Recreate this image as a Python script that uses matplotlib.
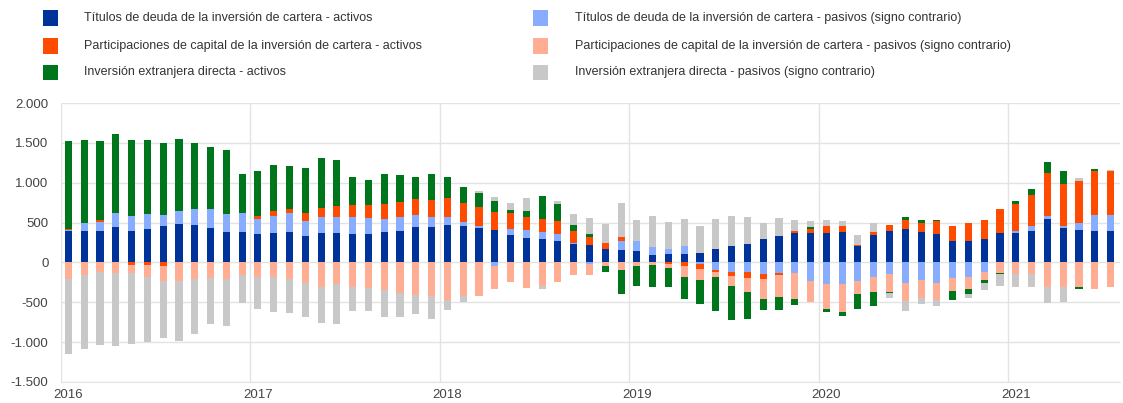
import numpy as np
import matplotlib
matplotlib.use("Agg")
import matplotlib.pyplot as plt
from matplotlib.patches import Rectangle
from matplotlib.ticker import FuncFormatter, FixedLocator

plt.rcParams['font.family'] = ['Liberation Sans', 'DejaVu Sans']

# Monthly data, Jan 2016 - Jul 2021
years = ['2016', '2017', '2018', '2019', '2020', '2021']

deuda_activos = [390, 400, 392, 446, 400, 425, 458, 488, 475, 433, 379, 379,
                 358, 367, 379, 329, 371, 371, 358, 358, 383, 392, 446, 446,
                 467, 458, 433, 413, 350, 308, 288, 267, 233, 221, 171, 158,
                 138, 88, 108, 100, 117, 167, 204, 225, 296, 329, 371, 371,
                 371, 379, 200, 350, 400, 421, 379, 358, 267, 275, 288, 367,
                 367, 392, 550, 438, 413, 392, 400]
deuda_pasivos = [20, 92, 120, 175, 179, 187, 142, 154, 192, 234, 233, 238,
                 192, 212, 238, 196, 200, 200, 213, 205, 167, 179, 154, 125,
                 104, 50, 29, -50, 71, 104, 92, 92, 17, -17, 0, 117,
                 125, 108, 63, 104, -25, -92, -125, -117, -146, -138, -138, -229,
                 -275, -275, -238, -183, -146, -254, -221, -258, -200, -188, -125, 0,
                 21, 67, 38, 21, 83, 200, 192]
capital_activos = [10, 0, 20, 0, -29, -33, -42, 0, 0, 0, 0, 8,
                   33, 62, 58, 96, 117, 137, 146, 158, 179, 187, 200, 213,
                   242, 238, 233, 221, 200, 163, 171, 158, 138, 96, 71, 50,
                   0, 0, -17, -42, -60, -33, -50, -75, -67, -21, 17, 54,
                   88, 79, 21, 29, 71, 108, 121, 158, 196, 221, 250, 304,
                   346, 383, 533, 525, 529, 550, 550]
capital_pasivos = [-204, -162, -125, -137, -108, -154, -187, -229, -212, -192, -204, -154,
                   -187, -187, -208, -258, -308, -275, -308, -321, -350, -388, -404, -425,
                   -467, -425, -421, -279, -250, -317, -300, -250, -154, -142, -50, -92,
                   -42, -29, -54, -146, -130, -63, -121, -175, -250, -275, -317, -267,
                   -304, -346, -163, -188, -225, -233, -225, -208, -158, -142, -96, -133,
                   -150, -142, -308, -308, -308, -329, -308]
ied_activos = [1100, 1050, 993, 996, 963, 930, 892, 908, 833, 779, 800, 479,
               559, 584, 529, 567, 620, 580, 350, 312, 379, 338, 275, 324,
               254, 196, 171, 137, 38, 67, 283, 212, 83, 37, -75, -300,
               -258, -275, -238, -275, -310, -425, -421, -342, -138, -158, -75, 21,
               -42, -54, -183, -179, -17, 42, 38, 21, -117, -71, -42, -17,
               33, 75, 138, 167, -21, 29, 0]
ied_pasivos = [-942, -921, -912, -917, -883, -809, -713, -759, -684, -575, -596, -358,
               -392, -438, -430, -425, -446, -492, -300, -287, -333, -291, -246, -279,
               -125, -75, 33, 54, 92, 171, -37, 42, 142, 208, 246, 417,
               263, 383, 333, 338, 342, 383, 383, 350, 204, 233, 150, 71,
               79, 58, 125, 117, -54, -121, -79, -79, 0, -50, -83, -150,
               -158, -163, -204, -188, 33, 0, 12]

labels = ['Títulos de deuda de la inversión de cartera - activos',
          'Títulos de deuda de la inversión de cartera - pasivos (signo contrario)',
          'Participaciones de capital de la inversión de cartera - activos',
          'Participaciones de capital de la inversión de cartera - pasivos (signo contrario)',
          'Inversión extranjera directa - activos',
          'Inversión extranjera directa - pasivos (signo contrario)']
colors = ['#003399', '#88ADFF', '#FF4B00', '#FFAE93', '#00761C', '#C8C8C8']
series = [deuda_activos, deuda_pasivos, capital_activos, capital_pasivos,
          ied_activos, ied_pasivos]

W, H = 1123, 403
fig = plt.figure(figsize=(W / 100, H / 100), dpi=100)
ax_l, ax_r, ax_t, ax_b = 61, 1120, 103, 382
ax = fig.add_axes([ax_l / W, (H - ax_b) / H, (ax_r - ax_l) / W, (ax_b - ax_t) / H])

n = len(deuda_activos)
x = np.arange(n) + 0.47
pos_base = np.zeros(n)
neg_base = np.zeros(n)
for vals, col in zip(series, colors):
    v = np.array(vals, dtype=float)
    bottom = np.where(v >= 0, pos_base, neg_base)
    ax.bar(x, v, bottom=bottom, width=0.45, color=col, linewidth=0, zorder=3)
    pos_base = pos_base + np.where(v >= 0, v, 0)
    neg_base = neg_base + np.where(v < 0, v, 0)

ax.set_ylim(-1500, 2000)
ax.set_xlim(0, (ax_r - ax_l) / 15.79)
ax.set_yticks(np.arange(-1500, 2001, 500))
ax.yaxis.set_major_formatter(FuncFormatter(lambda v, p: f"{int(v):,}".replace(',', '.')))

year_starts = np.arange(len(years)) * 12
ax.xaxis.set_major_locator(FixedLocator(year_starts + 0.47))
ax.set_xticklabels(years)
ax.xaxis.set_minor_locator(FixedLocator(year_starts))

ax.grid(axis='y', color='#E3E3E3', linewidth=1.0, zorder=0)
ax.grid(axis='x', which='minor', color='#E3E3E3', linewidth=1.0, zorder=0)
ax.grid(axis='x', which='major', visible=False)
for s in ['top', 'right', 'left']:
    ax.spines[s].set_visible(False)
ax.spines['bottom'].set_color('#E3E3E3')
ax.tick_params(axis='both', which='both', length=0, labelsize=9.5, labelcolor='#444444')
ax.tick_params(axis='y', pad=9)
ax.tick_params(axis='x', pad=5)

# Legend (two columns, drawn in figure pixels)
leg_rows_y = [18, 46, 72]
left_items = [0, 2, 4]
right_items = [1, 3, 5]
for col_items, mx, tx in [(left_items, 43, 84), (right_items, 533, 575)]:
    for yy, idx in zip(leg_rows_y, col_items):
        fig.add_artist(Rectangle(((mx) / W, (H - yy - 7.5) / H), 15 / W, 15 / H,
                                 transform=fig.transFigure, facecolor=colors[idx],
                                 edgecolor='none'))
        fig.text(tx / W, (H - yy) / H, labels[idx], fontsize=9, color='#333333',
                 va='center', ha='left')

fig.savefig('out.png', dpi=100)
